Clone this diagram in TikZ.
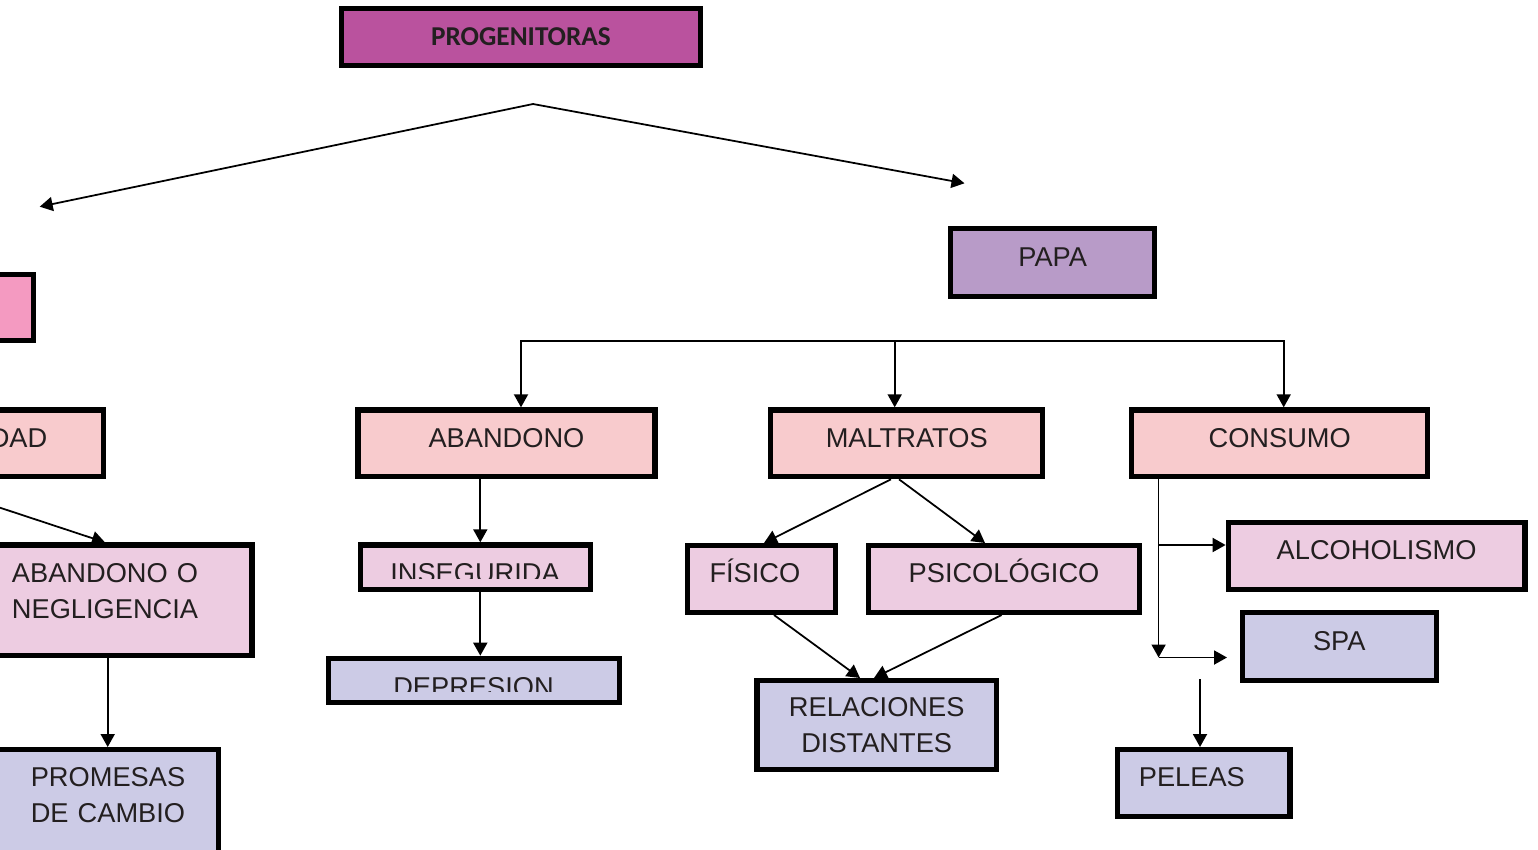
\documentclass[tikz,border=0pt]{standalone}
\usepackage{fontspec}
\setmainfont{Liberation Sans}
\newfontfamily\titulofont{Carlito}
\usetikzlibrary{arrows.meta}

\definecolor{progcolor}{HTML}{BA529E}
\definecolor{mamacolor}{HTML}{F49AC1}
\definecolor{papacolor}{HTML}{B89BC8}
\definecolor{rosacolor}{HTML}{F8CBCD}
\definecolor{lilacolor}{HTML}{EDCCE1}
\definecolor{lavandacolor}{HTML}{CCCBE6}
\definecolor{tinta}{HTML}{231F20}

\begin{document}
\begin{tikzpicture}[x=0.02cm,y=-0.02cm]

    \tikzset{
      marco/.style={
        draw=black,
        line width=3pt,
        inner sep=0pt,
        text=tinta,
      },
      caja/.style={
        marco,
        font=\fontsize{15.5}{20.5}\selectfont,
        text height=11.5pt,
        text depth=7.2pt,
      },
      tam/.style 2 args={
        minimum width=#1*0.02cm-3pt,
        minimum height=#2*0.02cm-3pt,
      },
      izq/.style={text width=#1, align=left},
      dos/.style={text width=#1, align=center},
      texto/.style={
        inner sep=0pt,
        text=tinta,
        font=\fontsize{15.5}{20.5}\selectfont,
      },
      flecha/.style={line width=1pt, >={Triangle[length=7.4pt,width=8pt]}, ->},
    }
    \useasboundingbox (0,0) rectangle (1538,849);
    \clip (0,0) rectangle (1538,849);

    % cajas de arriba
    \node[marco, fill=progcolor, tam={364}{62}, font=\titulofont\bfseries\fontsize{15.5}{18}\selectfont] (progenitoras) at (521,37) {PROGENITORAS};
    \node[marco, fill=mamacolor, tam={206}{71}] (mama) at (-67,307.5) {};
    \node[caja, fill=papacolor, tam={209.5}{73.3}] (papa) at (1052.7,262.3) {PAPA};

    % rama izquierda
    \node[caja, fill=rosacolor, tam={175}{72}] (dad) at (18.5,443.3) {DAD};
    \node[caja, fill=lilacolor, tam={299.2}{115.7}, dos=4cm, text depth=31.4pt] (negligencia) at (105,600.2) {ABANDONO O\\NEGLIGENCIA};
    \node[caja, fill=lavandacolor, tam={226}{120}, dos=3.4cm, text depth=34.5pt] (promesas) at (108,807) {PROMESAS\\DE CAMBIO};

    % rama de papa
    \node[caja, fill=rosacolor, tam={302.5}{72}] (abandono) at (506.5,443.3) {ABANDONO};
    \node[caja, fill=rosacolor, tam={277.5}{72}] (maltratos) at (906.7,443.3) {MALTRATOS};
    \node[caja, fill=rosacolor, tam={301.4}{72}] (consumo) at (1279.7,443.3) {CONSUMO};

    \node[caja, fill=lilacolor, tam={235.6}{50}] (inseguridad) at (475.5,567.3) {};
    \begin{scope}
      \clip (350,540) rectangle (600,578.3);
      \node[texto] (tinseguridad) at (475,573) {INSEGURIDA};
    \end{scope}
    \node[caja, fill=lavandacolor, tam={296.6}{49.3}] (depresion) at (474,680.3) {};
    \begin{scope}
      \clip (320,650) rectangle (630,691);
      \node[texto] (tdepresion) at (473.5,686.7) {DEPRESION};
    \end{scope}

    \node[caja, fill=lilacolor, tam={153}{72}, izq=2.08cm] (fisico) at (761.5,579) {FÍSICO};
    \node[caja, fill=lilacolor, tam={276}{72}] (psicologico) at (1004,579) {PSICOLÓGICO};
    \node[caja, fill=lavandacolor, tam={244.5}{94}, dos=3.8cm, text depth=20.9pt] (relaciones) at (876.7,725) {RELACIONES\\DISTANTES};

    \node[caja, fill=lilacolor, tam={302}{72}] (alcoholismo) at (1376.6,556) {ALCOHOLISMO};
    \node[caja, fill=lavandacolor, tam={199.4}{73}] (spa) at (1339.3,646.5) {SPA};
    \node[caja, fill=lavandacolor, tam={178}{72}, izq=2.59cm] (peleas) at (1203.6,783) {PELEAS};

    % flechas
    \coordinate (vertice) at (533,104);
    \coordinate (finmama) at (39.7,206.7);
    \coordinate (finpapa) at (964.5,183.3);
    \draw[flecha] (vertice) -- (finmama);
    \draw[flecha] (vertice) -- (finpapa);

    \coordinate (busizq) at (521,341);
    \coordinate (busmed) at (894.7,341);
    \coordinate (busder) at (1283.7,341);
    \draw[flecha, <->] (busizq |- abandono.north) -- (busizq) -- (busder) -- (busder |- consumo.north);
    \draw[flecha] (busmed) -- (busmed |- maltratos.north);

    \draw[flecha] (-86,0 |- dad.south) -- (negligencia.north);
    \draw[flecha] (107.7,0 |- negligencia.south) -- (107.7,0 |- promesas.north);

    \draw[flecha] (480.3,0 |- abandono.south) -- (480.3,0 |- inseguridad.north);
    \draw[flecha] (480.3,0 |- inseguridad.south) -- (480.3,0 |- depresion.north);

    \draw[flecha] (891,0 |- maltratos.south) -- (764,0 |- fisico.north);
    \draw[flecha] (899,0 |- maltratos.south) -- (985,0 |- psicologico.north);
    \draw[flecha] (774,0 |- fisico.south) -- (860,0 |- relaciones.north);
    \draw[flecha] (1001.6,0 |- psicologico.south) -- (874,0 |- relaciones.north);

    \coordinate (ramal) at (1158.6,545);
    \coordinate (codo) at (1158.6,657.5);
    \coordinate (finspa) at (1227,657.5);
    \draw[flecha] (codo |- consumo.south) -- (codo);
    \draw[flecha] (ramal) -- (alcoholismo.west |- ramal);
    \draw[flecha] (codo) -- (finspa);

    \coordinate (iniciopeleas) at (1200,679);
    \draw[flecha] (iniciopeleas) -- (iniciopeleas |- peleas.north);

\end{tikzpicture}
\end{document}
